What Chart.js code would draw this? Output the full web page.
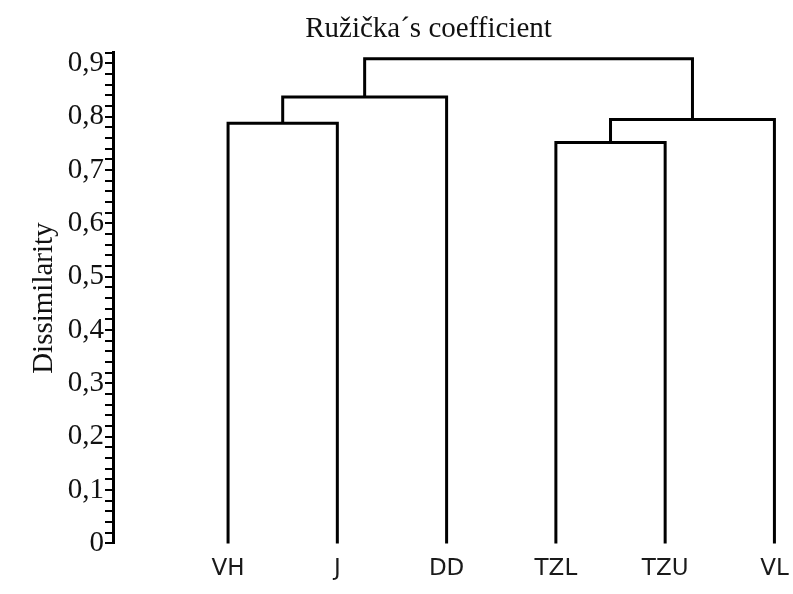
<!DOCTYPE html>
<html>
<head>
<meta charset="utf-8">
<script src="https://cdn.jsdelivr.net/npm/chart.js@4.4.1/dist/chart.umd.min.js"></script>
<style>
  body { margin: 0; background: #fff; }
</style>
</head>
<body>
<canvas id="grafico" width="793" height="594"></canvas>
<script>
// Datos del dendrograma
const hojas = ['VH', 'J', 'DD', 'TZL', 'TZU', 'VL'];
// uniones: nodo A + nodo B a la altura indicada (nodos >= 6 son uniones previas)
const unionA = [0, 6, 3, 8, 7];
const unionB = [1, 2, 4, 5, 9];
const alturas = [0.788, 0.837, 0.752, 0.795, 0.909];
const ticksY = [0, 0.1, 0.2, 0.3, 0.4, 0.5, 0.6, 0.7, 0.8, 0.9];

const serif = 'Liberation Serif';

function construirRamas() {
    const posX = hojas.map((h, i) => i + 1);
    const posY = hojas.map(() => 0);
    const ramas = [];
    for (let k = 0; k < alturas.length; k++) {
        const a = unionA[k], b = unionB[k], h = alturas[k];
        ramas.push({
            data: [
                { x: posX[a], y: posY[a] },
                { x: posX[a], y: h },
                { x: posX[b], y: h },
                { x: posX[b], y: posY[b] }
            ],
            showLine: true,
            borderColor: '#000',
            borderWidth: 3,
            pointRadius: 0,
            borderJoinStyle: 'miter',
            clip: false
        });
        posX.push((posX[a] + posX[b]) / 2);
        posY.push(h);
    }
    return ramas;
}

const config = {
    type: 'scatter',
    data: { datasets: construirRamas() },
    options: {
        responsive: false,
        animation: false,
        events: [],
        layout: { padding: { top: 0, left: 0, right: -64, bottom: 11 } },
        plugins: {
            legend: { display: false },
            tooltip: { enabled: false },
            title: {
                display: true,
                text: 'Ružička´s coefficient',
                color: '#111',
                font: { family: serif, size: 29, weight: 'normal' },
                padding: { top: 12, bottom: 6 }
            }
        },
        scales: {
            x: {
                type: 'linear',
                min: -0.053,
                max: 6.17,
                border: { display: false },
                // sin marcas, pero tickLength separa las etiquetas del área
                grid: { display: false, drawTicks: true, tickLength: 12 },
                afterBuildTicks: function(scale) {
                    scale.ticks = hojas.map((h, i) => ({ value: i + 1 }));
                },
                ticks: {
                    padding: 0,
                    color: '#1a1a1a',
                    font: { family: 'DejaVu Sans', size: 23 },
                    maxRotation: 0,
                    callback: function(v) { return hojas[v - 1]; }
                }
            },
            y: {
                min: 0,
                max: 0.92,
                afterFit: function(scale) { scale.width = 113; },
                border: { display: true, color: '#000', width: 3 },
                grid: { drawOnChartArea: false, drawTicks: true, tickLength: 8, color: '#000', lineWidth: 2 },
                ticks: {
                    stepSize: 0.02,
                    padding: 1,
                    autoSkip: false,
                    color: '#111',
                    font: { family: serif, size: 29 },
                    callback: function(v) {
                        const c = Math.round(v * 100);
                        if (c % 10 !== 0) return '';
                        const t = ticksY.find(x => Math.round(x * 100) === c);
                        return t === 0 ? '0' : t.toFixed(1).replace('.', ',');
                    }
                },
                title: {
                    display: true,
                    text: 'Dissimilarity',
                    color: '#111',
                    font: { family: serif, size: 29, weight: 'normal' },
                    padding: { top: 27, bottom: 0 }
                }
            }
        }
    }
};

new Chart(document.getElementById('grafico'), config);
</script>
</body>
</html>
